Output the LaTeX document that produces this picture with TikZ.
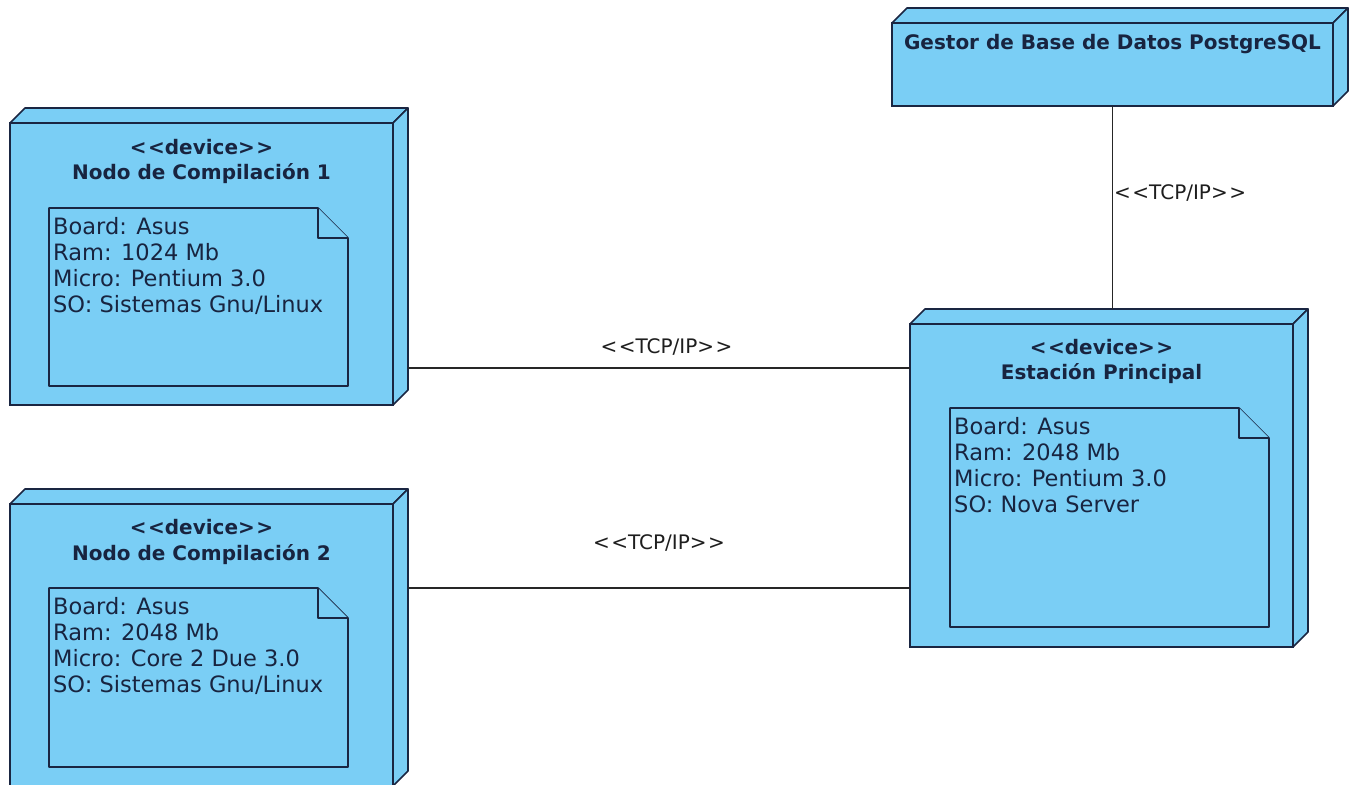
\documentclass[tikz,border=0pt]{standalone}
\usepackage{fontspec}
\setmainfont{DejaVu Sans}
\definecolor{nodefill}{RGB}{122,206,245}
\definecolor{edgecol}{RGB}{26,38,66}
\definecolor{txtcol}{RGB}{24,36,64}
\definecolor{labcol}{RGB}{30,30,30}
\newcommand\ltlt{{<}\kern1.5pt{<}}
\newcommand\gtgt{{>}\kern1.5pt{>}}
\newcommand\cubefaces[1]{%
  \filldraw[face] (#1.north west) -- ++(15,-15) -- ([shift={(15,-15)}]#1.north east) -- (#1.north east) -- cycle;
  \filldraw[face] (#1.north east) -- ([shift={(15,-15)}]#1.north east) -- ([shift={(15,-15)}]#1.south east) -- (#1.south east) -- cycle;
}
\newcommand\notefold[1]{%
  \filldraw[face] (#1.north west) -- ([xshift=-30pt]#1.north east) -- ([yshift=-30pt]#1.north east) -- (#1.south east) -- (#1.south west) -- cycle;
  \draw[face] ([xshift=-30pt]#1.north east) |- ([yshift=-30pt]#1.north east);
}
\begin{document}
\begin{tikzpicture}[x=1pt,y=-1pt,
  face/.style={draw=edgecol, fill=nodefill, line width=1.6pt, line join=round},
  devbox/.style={draw=edgecol, fill=nodefill, line width=1.6pt, outer sep=0pt, inner sep=0pt, anchor=north west},
  notebox/.style={outer sep=0pt, inner sep=0pt, anchor=north west},
  hdr/.style={text=txtcol, font=\fontsize{20}{24}\selectfont\bfseries, inner sep=0pt},
  body/.style={text=txtcol, font=\fontsize{22.5}{26}\selectfont, align=left, anchor=north west, inner sep=0pt},
  conn/.style={draw=black!85, line width=1.4pt},
  lab/.style={text=labcol, font=\fontsize{20}{24}\selectfont, inner sep=0pt}
]
\useasboundingbox (0,0) rectangle (1356,784);
\clip (0,0) rectangle (1356,784);
\fill[white] (0,0) rectangle (1356,784);

% Nodo de Compilacion 1
\node[devbox, minimum width=383pt, minimum height=282pt] (n1) at (10,123) {};
\cubefaces{n1}
\node[hdr] (n1s) at (201.5,147) {\ltlt device\gtgt};
\node[hdr] (n1t) at (201.5,174) {Nodo de Compilación 1};
\node[notebox, minimum width=299pt, minimum height=178pt] (n1note) at (49,208) {};
\notefold{n1note}
\node[body] (n1txt) at ([shift={(4,9)}]n1note.north west) {Board: Asus\\Ram: 1024 Mb\\Micro: Pentium 3.0\\SO: Sistemas Gnu/Linux};

% Nodo de Compilacion 2
\node[devbox, minimum width=383pt, minimum height=282pt] (n2) at (10,504) {};
\cubefaces{n2}
\node[hdr] (n2s) at (201.5,527) {\ltlt device\gtgt};
\node[hdr] (n2t) at (201.5,555) {Nodo de Compilación 2};
\node[notebox, minimum width=299pt, minimum height=179pt] (n2note) at (49,588) {};
\notefold{n2note}
\node[body] (n2txt) at ([shift={(4,9)}]n2note.north west) {Board: Asus\\Ram: 2048 Mb\\Micro: Core 2 Due 3.0\\SO: Sistemas Gnu/Linux};

% Gestor
\node[devbox, minimum width=441pt, minimum height=83pt] (db) at (892,23) {};
\cubefaces{db}
\node[hdr] (dbt) at (1112.5,44) {Gestor de Base de Datos PostgreSQL};

% Estacion Principal
\node[devbox, minimum width=383pt, minimum height=323pt] (est) at (910,324) {};
\cubefaces{est}
\node[hdr] (ests) at (1101.5,347) {\ltlt device\gtgt};
\node[hdr] (estt) at (1101.5,374) {Estación Principal};
\node[notebox, minimum width=319pt, minimum height=219pt] (estnote) at (950,408) {};
\notefold{estnote}
\node[body] (esttxt) at ([shift={(4,9)}]estnote.north west) {Board: Asus\\Ram: 2048 Mb\\Micro: Pentium 3.0\\SO: Nova Server};

% Connectors
\coordinate (p1) at ([xshift=15pt]n1.east |- 0,368);
\coordinate (p2) at ([xshift=15pt]n2.east |- 0,588);
\draw[conn] (p1) -- node[lab, pos=0.515, yshift=21pt] {\ltlt TCP/IP\gtgt} (p1 -| est.west);
\draw[conn] (p2) -- node[lab, pos=0.5, yshift=45pt] {\ltlt TCP/IP\gtgt} (p2 -| est.west);
\draw[conn] (db.south) -- node[lab, pos=0.43, anchor=west, xshift=1pt] {\ltlt TCP/IP\gtgt} ([yshift=15pt]db.south |- est.north);
\end{tikzpicture}
\end{document}
